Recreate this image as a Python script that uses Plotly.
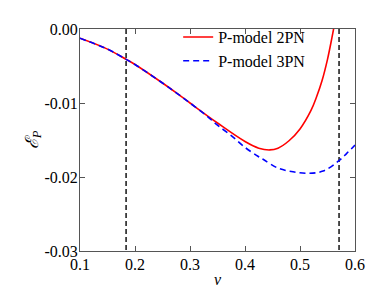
import plotly.graph_objects as go

# P-model 2PN (red, solid)
v_2pn = [0.10, 0.15, 0.1838, 0.20, 0.25, 0.2783, 0.30, 0.35, 0.40, 0.425, 0.445, 0.46, 0.48, 0.50, 0.52, 0.53, 0.54, 0.55, 0.558, 0.565]
e_2pn = [-0.00125, -0.00272, -0.0041, -0.0048, -0.0073, -0.0088, -0.0100, -0.0127, -0.0152, -0.0161, -0.01634, -0.0161, -0.0151, -0.0135, -0.0110, -0.0092, -0.0070, -0.0041, -0.0012, 0.0016]

# P-model 3PN (blue, dashed)
v_3pn = [0.10, 0.15, 0.1838, 0.20, 0.25, 0.2783, 0.30, 0.33, 0.35, 0.375, 0.40, 0.4235, 0.4328, 0.46, 0.4874, 0.515, 0.542, 0.569, 0.585, 0.60]
e_3pn = [-0.00125, -0.00272, -0.0041, -0.0048, -0.0073, -0.0088, -0.0100, -0.0117, -0.0130, -0.0144, -0.0160, -0.0172, -0.0176, -0.0188, -0.0193, -0.0195, -0.0192, -0.0179, -0.0168, -0.0157]

# vertical markers
v_marks = [0.1838, 0.571]
y_span = [0.0, -0.03]

x_ticks = [0.1, 0.2, 0.3, 0.4, 0.5, 0.6]
x_labels = ["0.1", "0.2", "0.3", "0.4", "0.5", "0.6"]
y_ticks = [0.0, -0.01, -0.02, -0.03]
y_labels = ["0.00", "-0.01", "-0.02", "-0.03"]

FONT = "Liberation Serif, Times New Roman, serif"

fig = go.Figure()
for vm in v_marks:
    fig.add_trace(go.Scatter(x=[vm, vm], y=y_span, mode="lines",
                             line=dict(color="#222222", width=1.6, dash="5px,3px"),
                             showlegend=False, hoverinfo="skip"))
fig.add_trace(go.Scatter(x=v_2pn, y=e_2pn, mode="lines", name="P-model 2PN",
                         line=dict(color="#ff0000", width=1.6, shape="spline")))
fig.add_trace(go.Scatter(x=v_3pn, y=e_3pn, mode="lines", name="P-model 3PN",
                         line=dict(color="#0000ff", width=1.6, dash="6px,4px", shape="spline")))

axis_common = dict(showline=True, linecolor="#555555", linewidth=1, mirror="ticks",
                   ticks="inside", ticklen=5, tickcolor="#555555", showgrid=False,
                   zeroline=False, tickfont=dict(family=FONT, size=16, color="black"))

fig.update_layout(
    width=374, height=289,
    margin=dict(l=72, r=27, t=14, b=44),
    paper_bgcolor="white", plot_bgcolor="white",
    font=dict(family=FONT, color="black"),
    xaxis=dict(range=[0.1, 0.6], tickvals=x_ticks, ticktext=x_labels, ticklabelstandoff=-1,
               title=dict(text="<i>v</i>", font=dict(family=FONT, size=16), standoff=1),
               **axis_common),
    yaxis=dict(range=[-0.03, 0.0], tickvals=y_ticks, ticktext=y_labels, ticklabelstandoff=-2,
               title=dict(text="<i>ℰ<sub>P</sub></i>", font=dict(family=FONT, size=18), standoff=1),
               **axis_common),
    legend=dict(x=0.357, y=1.04, xanchor="left", yanchor="top",
                bgcolor="rgba(0,0,0,0)", font=dict(family=FONT, size=16),
                itemwidth=30, tracegroupgap=0),
    showlegend=True,
)

fig.write_html("out.html")
